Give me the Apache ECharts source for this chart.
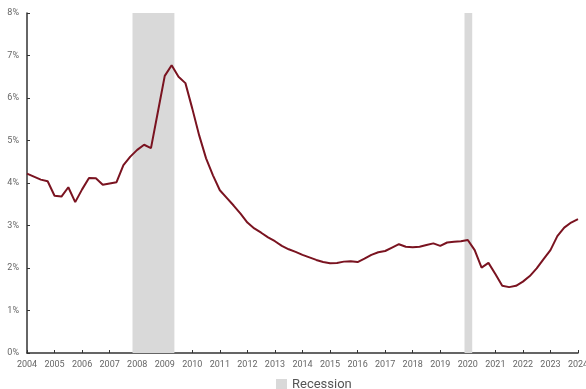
<!DOCTYPE html>
<html>
<head>
<meta charset="utf-8">
<style>
  html, body { margin: 0; padding: 0; background: #ffffff; }
  #chart { width: 586px; height: 389px; }
</style>
<script src="https://cdn.jsdelivr.net/npm/echarts@6/dist/echarts.min.js"></script>
</head>
<body>
<div id="chart"></div>
<script>
// Quarterly observations, 2004 Q1 through 2024 Q1 (percent)
const quarterStarts = [];
for (let y = 2004; y <= 2024; y++) {
  for (let q = 0; q < 4; q++) {
    if (y === 2024 && q > 0) break;
    quarterStarts.push(y + q * 0.25);
  }
}
const rateValues = [
  4.22, 4.15, 4.08, 4.04,   // 2004
  3.70, 3.68, 3.90, 3.55,   // 2005
  3.85, 4.12, 4.11, 3.96,   // 2006
  3.99, 4.02, 4.42, 4.62,   // 2007
  4.78, 4.90, 4.82, 5.67,   // 2008
  6.52, 6.77, 6.50, 6.35,   // 2009
  5.75, 5.12, 4.58, 4.18,   // 2010
  3.83, 3.65, 3.47, 3.28,   // 2011
  3.07, 2.93, 2.83, 2.72,   // 2012
  2.63, 2.52, 2.44, 2.38,   // 2013
  2.31, 2.25, 2.19, 2.14,   // 2014
  2.11, 2.12, 2.15, 2.16,   // 2015
  2.14, 2.22, 2.31, 2.37,   // 2016
  2.40, 2.48, 2.56, 2.50,   // 2017
  2.49, 2.50, 2.54, 2.58,   // 2018
  2.52, 2.60, 2.62, 2.63,   // 2019
  2.66, 2.42, 2.01, 2.12,   // 2020
  1.86, 1.58, 1.55, 1.58,   // 2021
  1.68, 1.81, 1.99, 2.21,   // 2022
  2.42, 2.75, 2.95, 3.07,   // 2023
  3.15                      // 2024
];

// Recession periods as fractional years
const recessionStarts = [2007.83, 2019.88];
const recessionEnds = [2009.35, 2020.16];

const yearTicks = [];
for (let y = 2004; y <= 2024; y++) yearTicks.push(y);

const seriesData = quarterStarts.map((x, i) => [x, rateValues[i]]);
const recessionAreas = recessionStarts.map((s, i) => [{ xAxis: s }, { xAxis: recessionEnds[i] }]);

const chart = echarts.init(document.getElementById('chart'), null, { renderer: 'canvas' });
chart.setOption({
  animation: false,
  textStyle: { fontFamily: 'Roboto' },
  grid: {
    left: 27, right: 8, top: 13, bottom: 36,
    containLabel: false,
    outerBoundsMode: 'none'
  },
  legend: {
    data: [{ name: 'Recession', icon: 'rect' }],
    left: 276,
    bottom: -2,
    padding: 0,
    itemWidth: 11,
    itemHeight: 11,
    itemGap: 4,
    textStyle: { fontFamily: 'Roboto', fontSize: 13, color: '#555555' }
  },
  xAxis: {
    type: 'value',
    min: 2004,
    max: 2024,
    interval: 1,
    axisLine: { lineStyle: { color: '#333333', width: 1.5 } },
    axisTick: { show: true, inside: true, length: 3, lineStyle: { color: '#333333' } },
    axisLabel: {
      color: '#666666', fontSize: 9, margin: 7,
      formatter: v => (yearTicks.includes(v) ? String(v) : '')
    },
    splitLine: { show: false }
  },
  yAxis: {
    type: 'value',
    min: 0,
    max: 8,
    interval: 1,
    axisLine: { show: true, lineStyle: { color: '#333333', width: 1.5 } },
    axisTick: { show: true, inside: true, length: 3, lineStyle: { color: '#333333' } },
    axisLabel: { color: '#666666', fontSize: 9, margin: 8, formatter: '{value}%' },
    splitLine: { show: false }
  },
  series: [
    {
      name: 'Recession',
      type: 'line',
      data: [],
      itemStyle: { color: '#d9d9d9' },
      lineStyle: { color: '#d9d9d9' },
      markArea: {
        silent: true,
        itemStyle: { color: '#d9d9d9' },
        data: recessionAreas
      }
    },
    {
      name: 'Rate',
      type: 'line',
      data: seriesData,
      showSymbol: false,
      smooth: false,
      z: 5,
      lineStyle: { color: '#7a1320', width: 2 },
      itemStyle: { color: '#7a1320' }
    }
  ]
});
</script>
</body>
</html>
